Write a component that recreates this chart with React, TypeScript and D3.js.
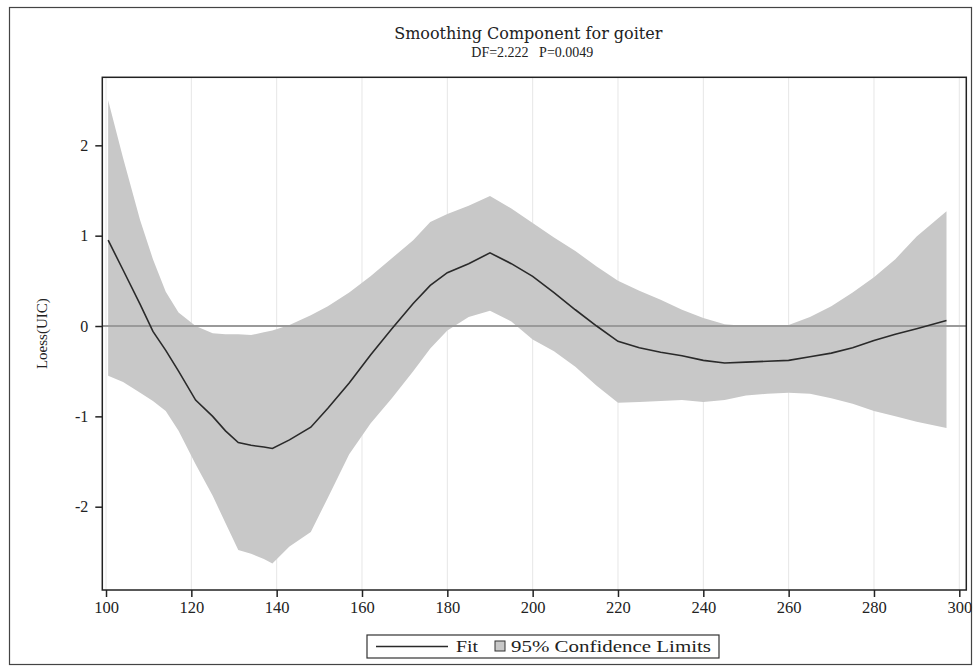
import React, { useRef, useEffect } from 'react';
import * as d3 from 'd3';

// goiter values along the x axis
const goiter = [100.5, 104, 108, 111, 114, 117, 121, 125, 128, 131, 134, 137, 139, 143, 148, 152, 157, 162, 167, 172, 176, 180, 185, 190, 195, 200, 205, 210, 215, 220, 225, 230, 235, 240, 245, 250, 255, 260, 265, 270, 275, 280, 285, 290, 297];

// loess fit
const fit = [0.95, 0.62, 0.24, -0.06, -0.27, -0.5, -0.82, -1.0, -1.16, -1.29, -1.32, -1.34, -1.355, -1.26, -1.12, -0.91, -0.63, -0.32, -0.03, 0.25, 0.45, 0.59, 0.69, 0.81, 0.69, 0.55, 0.37, 0.18, 0.0, -0.17, -0.24, -0.29, -0.33, -0.38, -0.41, -0.4, -0.39, -0.38, -0.34, -0.3, -0.24, -0.16, -0.09, -0.03, 0.06];

// 95% confidence limits
const upper = [2.5, 1.86, 1.17, 0.74, 0.38, 0.15, 0.0, -0.08, -0.09, -0.09, -0.1, -0.07, -0.05, 0.01, 0.12, 0.22, 0.37, 0.55, 0.75, 0.95, 1.15, 1.24, 1.33, 1.44, 1.3, 1.14, 0.98, 0.83, 0.66, 0.5, 0.39, 0.29, 0.18, 0.09, 0.02, 0.0, 0.0, 0.01, 0.1, 0.22, 0.37, 0.54, 0.74, 0.99, 1.27];
const lower = [-0.55, -0.62, -0.74, -0.83, -0.94, -1.16, -1.53, -1.88, -2.18, -2.48, -2.52, -2.58, -2.63, -2.44, -2.28, -1.9, -1.42, -1.08, -0.8, -0.5, -0.25, -0.05, 0.1, 0.17, 0.05, -0.15, -0.28, -0.45, -0.66, -0.85, -0.84, -0.83, -0.82, -0.84, -0.82, -0.77, -0.75, -0.74, -0.75, -0.8, -0.86, -0.94, -1.0, -1.06, -1.13];

const xTicks = [100, 120, 140, 160, 180, 200, 220, 240, 260, 280, 300];
const yTicks = [-2, -1, 0, 1, 2];

const title = 'Smoothing Component for goiter';
const subtitle = 'DF=2.222   P=0.0049';
const yLabel = 'Loess(UIC)';

function App() {
  const svgRef = useRef(null);

  useEffect(() => {
    const svg = d3.select(svgRef.current);
    svg.selectAll('*').remove();

    const left = 102.3, right = 966.3, top = 77.3, bottom = 590;
    const serif = "'Liberation Serif', 'Times New Roman', serif";

    // scales
    const x = d3.scaleLinear().domain([99.13, 301.64]).range([left, right]);
    const y = d3.scaleLinear().domain([-2.922, 2.753]).range([bottom, top]);

    const rows = goiter.map((g, i) => ({ g, fit: fit[i], lo: lower[i], hi: upper[i] }));

    // outer frame
    svg.append('rect')
      .attr('x', 9.5).attr('y', 7.5)
      .attr('width', 962).attr('height', 657)
      .attr('fill', 'none').attr('stroke', '#444').attr('stroke-width', 1.2);

    // vertical grid
    svg.append('g')
      .selectAll('line')
      .data(xTicks)
      .enter()
      .append('line')
      .attr('x1', d => x(d)).attr('x2', d => x(d))
      .attr('y1', top).attr('y2', bottom)
      .attr('stroke', '#e6e6e6').attr('stroke-width', 1);

    // confidence band
    const area = d3.area()
      .x(d => x(d.g))
      .y0(d => y(d.lo))
      .y1(d => y(d.hi));

    svg.append('path')
      .datum(rows)
      .attr('d', area)
      .attr('fill', '#c8c8c8');

    // zero reference line
    svg.append('line')
      .attr('x1', left).attr('x2', right)
      .attr('y1', y(0)).attr('y2', y(0))
      .attr('stroke', '#9a9a9a').attr('stroke-width', 2);

    // fit line
    const line = d3.line()
      .x(d => x(d.g))
      .y(d => y(d.fit));

    svg.append('path')
      .datum(rows)
      .attr('d', line)
      .attr('fill', 'none')
      .attr('stroke', '#2a2a2a')
      .attr('stroke-width', 1.6);

    // plot frame
    svg.append('rect')
      .attr('x', left).attr('y', top)
      .attr('width', right - left).attr('height', bottom - top)
      .attr('fill', 'none').attr('stroke', '#222').attr('stroke-width', 1.5);

    // axes
    const xAxis = svg.append('g')
      .attr('transform', `translate(0,${bottom})`)
      .call(d3.axisBottom(x).tickValues(xTicks).tickSize(7).tickSizeOuter(0).tickPadding(4));
    xAxis.select('.domain').remove();
    xAxis.selectAll('line').attr('stroke', '#222').attr('stroke-width', 1.5);
    xAxis.selectAll('text')
      .attr('fill', '#222')
      .style('font-family', serif)
      .style('font-size', '16.5px');

    const yAxis = svg.append('g')
      .attr('transform', `translate(${left},0)`)
      .call(d3.axisLeft(y).tickValues(yTicks).tickFormat(d => String(d)).tickSize(7).tickSizeOuter(0).tickPadding(7));
    yAxis.select('.domain').remove();
    yAxis.selectAll('line').attr('stroke', '#222').attr('stroke-width', 1.5);
    yAxis.selectAll('text')
      .attr('fill', '#222')
      .style('font-family', serif)
      .style('font-size', '16px');

    // y label
    svg.append('text')
      .attr('transform', `translate(44,${(top + bottom) / 2}) rotate(-90)`)
      .attr('text-anchor', 'middle')
      .attr('dominant-baseline', 'middle')
      .attr('fill', '#222')
      .style('font-family', serif)
      .style('font-size', '15px')
      .text(yLabel);

    // titles
    const cx = (left + right) / 2;
    svg.append('text')
      .attr('x', cx - 6).attr('y', 39)
      .attr('text-anchor', 'middle')
      .attr('fill', '#222')
      .style('font-family', "'DejaVu Serif', serif")
      .style('font-size', '16px')
      .text(title);

    svg.append('text')
      .attr('x', cx - 2).attr('y', 57)
      .attr('text-anchor', 'middle')
      .attr('fill', '#222')
      .style('font-family', serif)
      .style('font-size', '14px')
      .style('white-space', 'pre')
      .text(subtitle);

    // legend
    const lg = svg.append('g');
    lg.append('rect')
      .attr('x', 367).attr('y', 635)
      .attr('width', 352).attr('height', 23)
      .attr('fill', '#fff').attr('stroke', '#333').attr('stroke-width', 1.2);
    lg.append('line')
      .attr('x1', 376).attr('x2', 448)
      .attr('y1', 646.5).attr('y2', 646.5)
      .attr('stroke', '#2a2a2a').attr('stroke-width', 1.6);
    lg.append('text')
      .attr('x', 456).attr('y', 652)
      .attr('fill', '#222')
      .attr('textLength', 22)
      .attr('lengthAdjust', 'spacingAndGlyphs')
      .style('font-family', serif)
      .style('font-size', '16px')
      .text('Fit');
    lg.append('rect')
      .attr('x', 495).attr('y', 641)
      .attr('width', 10).attr('height', 10)
      .attr('fill', '#c8c8c8').attr('stroke', '#333').attr('stroke-width', 1);
    lg.append('text')
      .attr('x', 511).attr('y', 652)
      .attr('fill', '#222')
      .attr('textLength', 200)
      .attr('lengthAdjust', 'spacingAndGlyphs')
      .style('font-family', serif)
      .style('font-size', '16px')
      .text('95% Confidence Limits');
  }, []);

  return (
    <div style={{ position: 'absolute', left: 0, top: 0, background: '#fff' }}>
      <svg ref={svgRef} width={976} height={670}></svg>
    </div>
  );
}

export default App;
